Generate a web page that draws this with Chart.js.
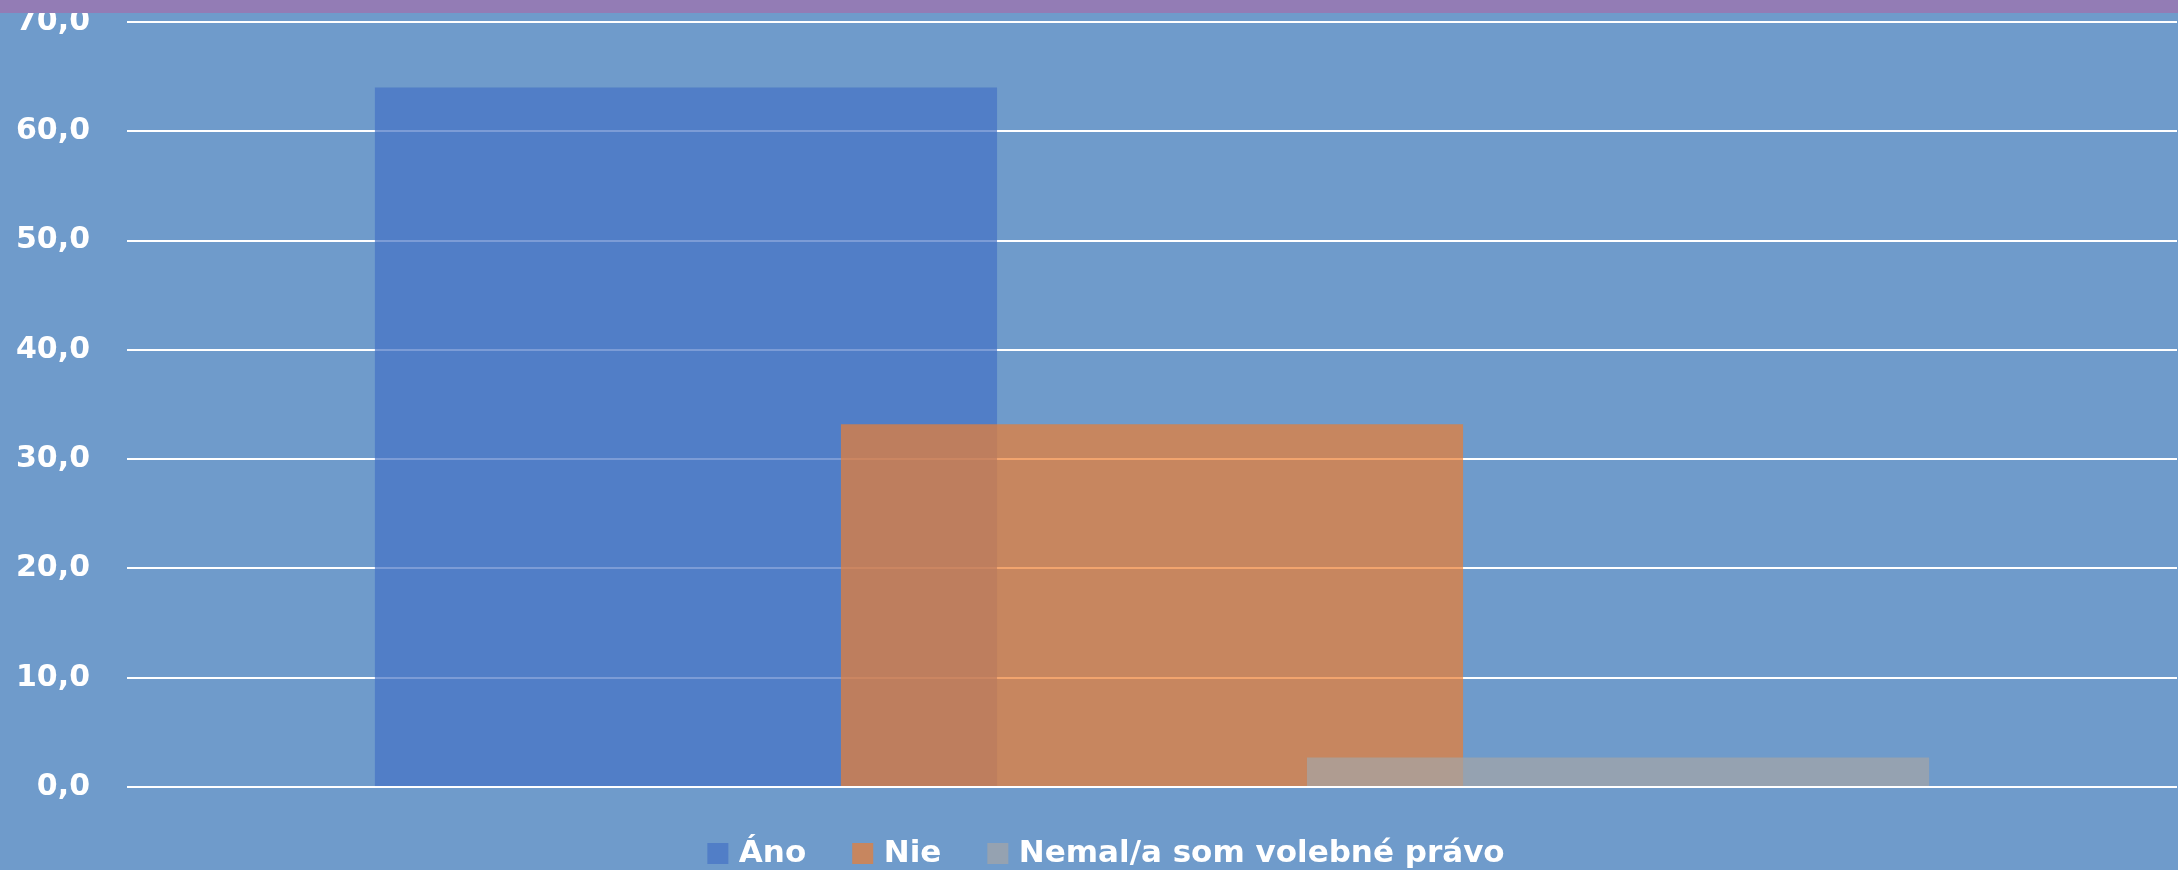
<!DOCTYPE html>
<html>
<head>
<meta charset="utf-8">
<script src="https://cdn.jsdelivr.net/npm/chart.js@4/dist/chart.umd.min.js"></script>
<style>
  html, body { margin: 0; padding: 0; background: #6f9bcb; overflow: hidden; }
  #wrap { position: relative; width: 2178px; height: 870px; }
  #strip { position: absolute; left: 0; top: 0; width: 100%; height: 13px; background: #937cb5; }
</style>
</head>
<body>
<div id="wrap">
  <canvas id="graf" width="2178" height="870"></canvas>
  <div id="strip"></div>
</div>
<script>
const categories = [''];
const seriesNames = ['Áno', 'Nie', 'Nemal/a som volebné právo'];
const seriesValues = [[64.0], [33.2], [2.7]];
const seriesColors = ['rgba(68,114,196,0.7)', 'rgba(237,125,49,0.7)', 'rgba(165,165,165,0.7)'];
const yMin = 0, yMax = 70, yStep = 10;

const ctx = document.getElementById('graf').getContext('2d');

// ako v Exceli: prvý rad dole, ďalšie cez neho
const poradieKreslenia = {
  id: 'poradieKreslenia',
  beforeDatasetDraw() { return false; },
  afterDatasetsDraw(chart) {
    for (let i = 0; i < chart.data.datasets.length; i++) {
      chart.getDatasetMeta(i).controller.draw();
    }
  },
  // legenda je v origináli trochu posunutá doprava
  afterLayout(chart) {
    chart.legend.left = 40;
  }
};

new Chart(ctx, {
  type: 'bar',
  data: {
    labels: categories,
    datasets: seriesNames.map((name, i) => ({
      label: name,
      data: seriesValues[i],
      backgroundColor: seriesColors[i],
      borderWidth: 0,
      pointStyle: 'rect',
      categoryPercentage: 0.682,
      barPercentage: 1.335
    }))
  },
  options: {
    responsive: false,
    animation: false,
    layout: { padding: { top: 22, right: 1, bottom: -9, left: 0 } },
    scales: {
      x: { display: false },
      y: {
        min: yMin,
        max: yMax,
        ticks: {
          stepSize: yStep,
          color: '#fff',
          padding: 37,
          font: { family: 'DejaVu Sans', weight: 'bold', size: 30 },
          callback: v => v.toFixed(1).replace('.', ',')
        },
        grid: { color: '#ffffff', lineWidth: 2, drawTicks: false },
        border: { display: false },
        afterFit: scale => {
          scale.width = 127;
          scale.paddingTop = 0;
          scale.paddingBottom = 0;
        }
      }
    },
    plugins: {
      tooltip: { enabled: false },
      legend: {
        position: 'bottom',
        labels: {
          color: '#fff',
          usePointStyle: true,
          boxWidth: 11,
          boxHeight: 21,
          padding: 51,
          font: { family: 'DejaVu Sans', weight: 'bold', size: 31 }
        }
      }
    }
  },
  plugins: [poradieKreslenia]
});
</script>
</body>
</html>
